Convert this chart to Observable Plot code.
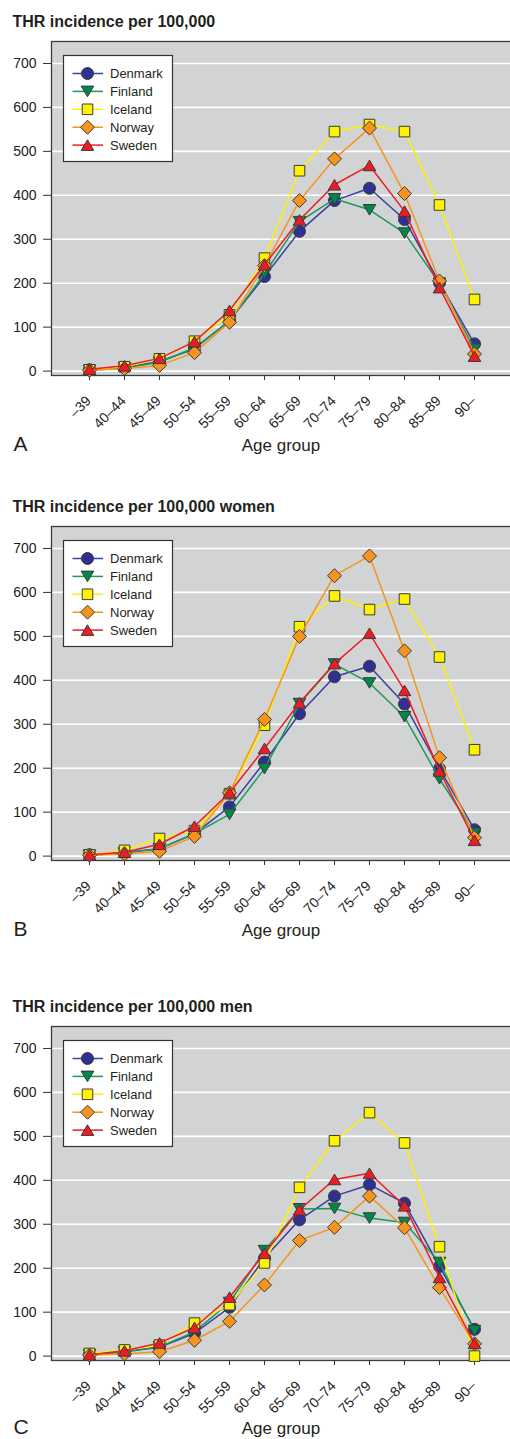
<!DOCTYPE html>
<html>
<head>
<meta charset="utf-8">
<script src="https://cdn.jsdelivr.net/npm/d3@7"></script>
<script src="https://cdn.jsdelivr.net/npm/@observablehq/plot@0.6"></script>
<style>
  html, body { margin: 0; padding: 0; background: #ffffff; }
  #charts svg { display: block; }
</style>
</head>
<body>
<div id="charts"></div>
<script>
// ---- Data ----
const ages = ["–39", "40–44", "45–49", "50–54", "55–59", "60–64", "65–69", "70–74", "75–79", "80–84", "85–89", "90–"];
const countries = ["Denmark", "Finland", "Iceland", "Norway", "Sweden"];
const yTicks = [0, 100, 200, 300, 400, 500, 600, 700];

// A: all
const allDenmark = [3, 8, 22, 51, 115, 215, 318, 388, 416, 345, 201, 62];
const allFinland = [2, 7, 20, 53, 113, 222, 340, 392, 367, 314, 200, 50];
const allIceland = [3, 10, 28, 68, 128, 257, 456, 545, 561, 545, 378, 163];
const allNorway  = [2, 6, 13, 42, 111, 240, 388, 483, 553, 404, 205, 39];
const allSweden  = [4, 12, 29, 67, 138, 242, 344, 424, 468, 364, 190, 34];

// B: women
const womenDenmark = [3, 8, 17, 51, 112, 214, 324, 408, 432, 346, 199, 60];
const womenFinland = [2, 7, 17, 51, 95, 199, 347, 437, 394, 317, 176, 52];
const womenIceland = [3, 13, 40, 58, 142, 298, 522, 592, 561, 585, 453, 242];
const womenNorway  = [2, 5, 11, 45, 144, 311, 500, 638, 683, 467, 224, 42];
const womenSweden  = [3, 9, 27, 68, 144, 245, 349, 438, 507, 377, 194, 36];

// C: men
const menDenmark = [3, 10, 20, 52, 111, 223, 310, 364, 390, 348, 204, 61];
const menFinland = [3, 10, 21, 55, 122, 240, 335, 336, 314, 304, 213, 58];
const menIceland = [6, 14, 25, 75, 117, 212, 384, 490, 554, 485, 249, 0];
const menNorway  = [2, 5, 10, 36, 79, 162, 263, 293, 364, 292, 156, 28];
const menSweden  = [3, 12, 30, 65, 134, 234, 333, 402, 416, 342, 179, 29];

// ---- Styles ----
const lineColors = ["#3a3fa0", "#1b9a5a", "#fff200", "#f7941d", "#ed1c24"];
const fillColors = ["#2e3192", "#00874a", "#fff200", "#f7941d", "#ed1c24"];

const symCircle = { draw(ctx) { const r = 6; ctx.moveTo(r, 0); ctx.arc(0, 0, r, 0, 2 * Math.PI); ctx.closePath(); } };
const symSquare = { draw(ctx) { const h = 5.3; ctx.moveTo(-h, -h); ctx.lineTo(h, -h); ctx.lineTo(h, h); ctx.lineTo(-h, h); ctx.closePath(); } };
const symDiamond = { draw(ctx) { const h = 7; ctx.moveTo(0, -h); ctx.lineTo(h, 0); ctx.lineTo(0, h); ctx.lineTo(-h, 0); ctx.closePath(); } };
const symTriUp = { draw(ctx) { const w = 6.3, h = 5.3; ctx.moveTo(0, -h); ctx.lineTo(w, h); ctx.lineTo(-w, h); ctx.closePath(); } };
const symTriDown = { draw(ctx) { const w = 6.3, h = 5.3; ctx.moveTo(0, h); ctx.lineTo(w, -h); ctx.lineTo(-w, -h); ctx.closePath(); } };
const symbols = [symCircle, symTriDown, symSquare, symDiamond, symTriUp];

const FONT = "'Liberation Sans', Arial, Helvetica, sans-serif";
const MT = 41;

const panels = [
  { title: "THR incidence per 100,000", letter: "A", series: [allDenmark, allFinland, allIceland, allNorway, allSweden], height: 485, below: 75 },
  { title: "THR incidence per 100,000 women", letter: "B", series: [womenDenmark, womenFinland, womenIceland, womenNorway, womenSweden], height: 500, below: 75 },
  { title: "THR incidence per 100,000 men", letter: "C", series: [menDenmark, menFinland, menIceland, menNorway, menSweden], height: 454, below: 73 }
];

function makePanel(p) {
  const frameH = 334;
  const marginBottom = p.height - MT - frameH;
  const marks = [
    Plot.frame({ fill: "#d1d3d4" }),
    Plot.gridY(yTicks, { stroke: "#ffffff", strokeOpacity: 1, strokeWidth: 1.6 }),
    Plot.frame({ stroke: "#3d3d3d", strokeWidth: 1.3, insetRight: -3 }),
    Plot.axisY(yTicks, { tickSize: 8, tickPadding: 7, fontSize: 14, stroke: "#333", fill: "#222", label: null }),
    Plot.axisX({ tickSize: 5, stroke: "#333", fill: "none", label: null }),
    Plot.text(ages, { x: d => d, text: d => d, frameAnchor: "bottom", dy: 23, dx: -1, rotate: -45, textAnchor: "end", lineAnchor: "middle", fontSize: 14, fill: "#222" }),
    Plot.text([p.title], { text: d => d, frameAnchor: "top-left", dx: -39, dy: -15 - 0.71 * 16, textAnchor: "start", lineAnchor: "top", fontSize: 16, fontWeight: "bold", fill: "#231f20" }),
    Plot.text(["Age group"], { text: d => d, frameAnchor: "bottom", dy: p.below - 0.71 * 17, textAnchor: "middle", lineAnchor: "top", fontSize: 17, fill: "#231f20" }),
    Plot.text([p.letter], { text: d => d, frameAnchor: "bottom-left", dx: -38, dy: p.below - 0.71 * 21, textAnchor: "start", lineAnchor: "top", fontSize: 21, fill: "#231f20" })
  ];
  countries.forEach((c, j) => {
    const rows = ages.map((a, i) => ({ country: c, age: a, value: p.series[j][i] }));
    marks.push(Plot.line(rows, { x: "age", y: "value", stroke: lineColors[j], strokeWidth: 1.5 }));
    marks.push(Plot.dot(rows, { x: "age", y: "value", symbol: symbols[j], r: 6, fill: fillColors[j], stroke: "#3a3a3a", strokeWidth: 1 }));
  });

  const svg = Plot.plot({
    width: 510,
    height: p.height,
    marginTop: MT,
    marginLeft: 51,
    marginRight: 0,
    marginBottom: marginBottom,
    style: { fontFamily: FONT, color: "#222", background: "#ffffff", overflow: "visible" },
    x: { type: "point", domain: ages, padding: 0.95, align: 0.52 },
    y: { domain: [-10, 750] },
    marks
  });

  // Legend box drawn into the plot's SVG
  const g = d3.select(svg).append("g").attr("transform", `translate(63.5,${MT + 14.5})`);
  g.append("rect").attr("width", 109).attr("height", 106).attr("fill", "#ffffff").attr("stroke", "#333").attr("stroke-width", 1.2);
  countries.forEach((c, j) => {
    const y = 18 + 17.9 * j;
    g.append("line").attr("x1", 9).attr("x2", 39.5).attr("y1", y).attr("y2", y).attr("stroke", lineColors[j]).attr("stroke-width", 1.5);
    g.append("path").attr("d", d3.symbol(symbols[j])()).attr("transform", `translate(24,${y})`).attr("fill", fillColors[j]).attr("stroke", "#3a3a3a").attr("stroke-width", 1);
    g.append("text").attr("x", 46.5).attr("y", y).attr("dy", "0.36em").attr("text-anchor", "start").attr("font-size", 13).attr("fill", "#231f20").attr("font-family", FONT).text(c);
  });
  return svg;
}

const root = document.getElementById("charts");
panels.forEach(p => root.appendChild(makePanel(p)));
</script>
</body>
</html>
